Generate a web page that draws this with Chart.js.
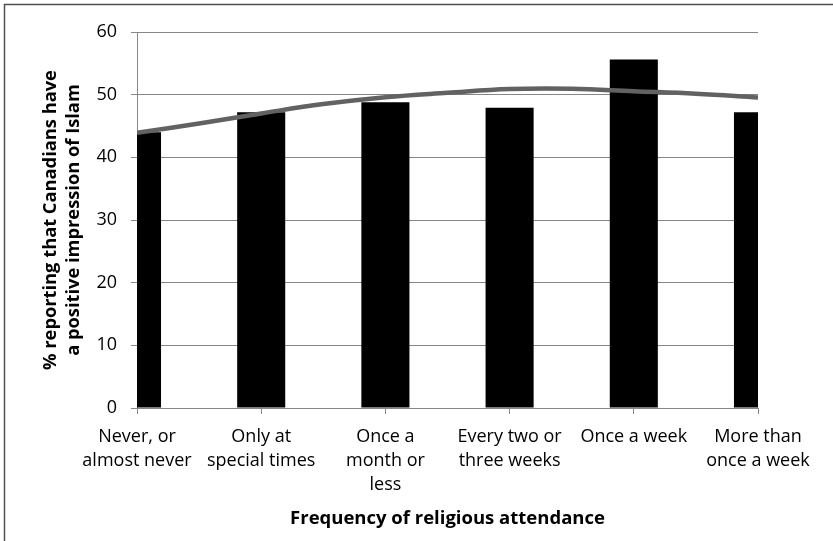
<!DOCTYPE html>
<html>
<head>
<meta charset="utf-8">
<title>Positive impression of Islam by religious attendance</title>
<script src="https://cdn.jsdelivr.net/npm/chart.js@4/dist/chart.umd.min.js"></script>
<style>
  html, body { margin: 0; padding: 0; background: #ffffff; }
  #wrap { position: relative; width: 833px; height: 541px; }
  canvas { display: block; }
</style>
</head>
<body>
<div id="wrap"><canvas id="chart" width="833" height="541"></canvas></div>
<script>
// Attendance categories (multi-line labels)
const categories = [
  ["Never, or", "almost never"],
  ["Only at", "special times"],
  ["Once a", "month or", "less"],
  ["Every two or", "three weeks"],
  "Once a week",
  ["More than", "once a week"]
];

// % reporting that Canadians have a positive impression of Islam
const positiveShare = [44.0, 47.2, 48.8, 47.9, 55.6, 47.2];

// Trend curve sampled at each category and half-way between them
const trendPositions = [0, 0.5, 1, 1.5, 2, 2.5, 3, 3.5, 4, 4.5, 5];
const trendValues = [43.9, 45.4, 47.0, 48.5, 49.6, 50.3, 50.9, 50.95, 50.55, 50.15, 49.55];

const yTicks = [0, 10, 20, 30, 40, 50, 60];

const xTitle = "Frequency of religious attendance";
const yTitle = ["% reporting that Canadians have", "a positive impression of Islam"];

const GRID = "#868686";
const FONT = "'Open Sans', 'DejaVu Sans', sans-serif";

// Left and top frame lines of the figure
const framePlugin = {
  id: "frame",
  afterDraw(chart) {
    const ctx = chart.ctx;
    ctx.save();
    ctx.strokeStyle = "#505050";
    ctx.lineWidth = 1.5;
    ctx.beginPath();
    ctx.moveTo(4.5, chart.height);
    ctx.lineTo(4.5, 4.5);
    ctx.lineTo(chart.width, 4.5);
    ctx.stroke();
    ctx.restore();
  }
};

new Chart(document.getElementById("chart"), {
  type: "bar",
  data: {
    labels: categories,
    datasets: [
      {
        type: "line",
        label: "Trend",
        data: trendPositions.map((p, i) => ({ x: p, y: trendValues[i] })),
        xAxisID: "xTrend",
        borderColor: "#626262",
        borderWidth: 4.5,
        tension: 0.4,
        pointRadius: 0,
        fill: false,
        clip: 0,
        order: 0
      },
      {
        type: "bar",
        label: "Positive impression",
        data: positiveShare,
        backgroundColor: "#000000",
        borderWidth: 0,
        grouped: false,
        categoryPercentage: 1,
        barPercentage: 0.387,
        clip: 0,
        order: 1
      }
    ]
  },
  plugins: [framePlugin],
  options: {
    responsive: false,
    animation: false,
    layout: { padding: { left: 0, top: 32, right: 75, bottom: 0 } },
    plugins: {
      legend: { display: false },
      tooltip: { enabled: false }
    },
    scales: {
      x: {
        type: "category",
        offset: false,
        grid: {
          offset: false,
          display: true,
          drawOnChartArea: false,
          drawTicks: true,
          tickLength: 6,
          color: GRID
        },
        border: { display: true, color: GRID, width: 1 },
        ticks: {
          color: "#000000",
          font: { family: FONT, size: 18, lineHeight: 1.333 },
          padding: 11,
          maxRotation: 0,
          minRotation: 0,
          autoSkip: false
        },
        title: {
          display: true,
          text: xTitle,
          color: "#000000",
          font: { family: FONT, size: 18.5, weight: "bold", lineHeight: 1.2 },
          padding: { top: 0, bottom: 11 }
        },
        afterFit(scale) { scale.height = 133; }
      },
      xTrend: {
        type: "linear",
        display: false,
        offset: false,
        min: 0,
        max: 5
      },
      y: {
        type: "linear",
        min: 0,
        max: 60,
        afterBuildTicks(scale) { scale.ticks = yTicks.map(v => ({ value: v })); },
        grid: {
          display: true,
          drawOnChartArea: true,
          drawTicks: true,
          tickLength: 6,
          color: GRID,
          lineWidth: 1
        },
        border: { display: true, color: GRID, width: 1 },
        ticks: {
          color: "#000000",
          font: { family: FONT, size: 18 },
          padding: 14
        },
        title: {
          display: true,
          text: yTitle,
          color: "#000000",
          font: { family: FONT, size: 18.3, weight: "bold", lineHeight: 1.26 },
          padding: { top: 39.5, bottom: 0 }
        },
        afterFit(scale) { scale.width = 137; }
      }
    }
  }
});
</script>
</body>
</html>
